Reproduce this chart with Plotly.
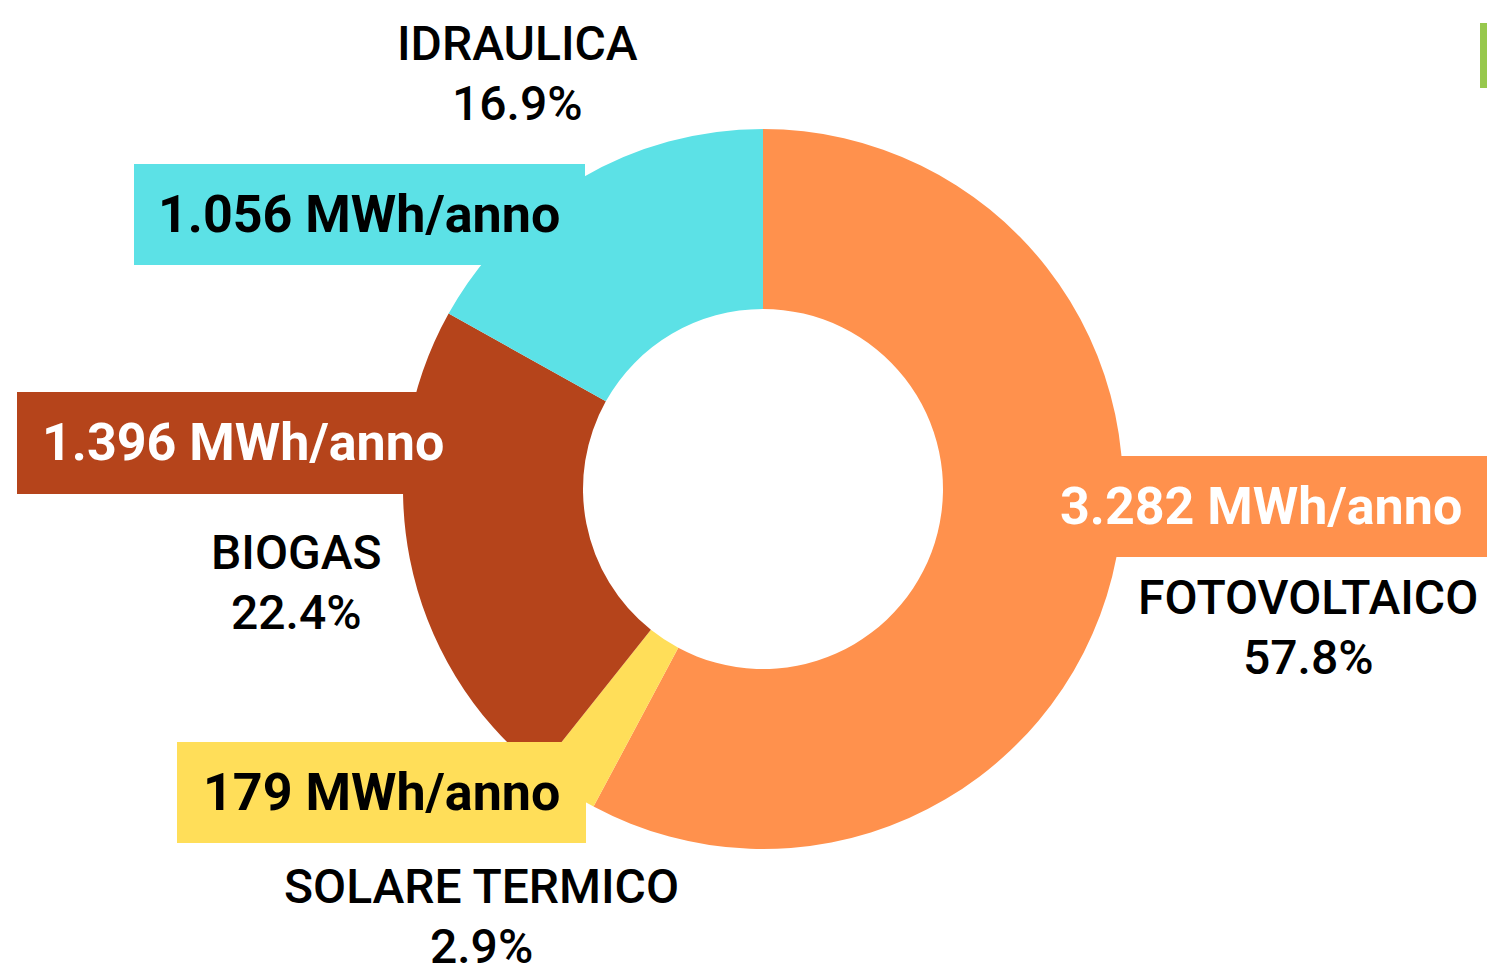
import plotly.graph_objects as go

W, H = 1487, 968

# slice data
labels = ["FOTOVOLTAICO", "SOLARE TERMICO", "BIOGAS", "IDRAULICA"]
shares = [57.8, 2.9, 22.4, 16.9]
energy = ["3.282 MWh/anno", "179 MWh/anno", "1.396 MWh/anno", "1.056 MWh/anno"]
colors = ["#FF914D", "#FFDE59", "#B5441B", "#5CE1E6"]
value_font = ["white", "black", "white", "black"]

FONT = "Roboto"


def px(x):
    return x / W


def py(y):
    return 1 - y / H


# donut centre (763, 489), radius 360 px
cx, cy, r = 763, 489, 360

fig = go.Figure(go.Pie(
    labels=labels,
    values=shares,
    sort=False,
    direction="clockwise",
    rotation=0,
    hole=0.5,
    marker=dict(colors=colors, line=dict(width=0)),
    textinfo="none",
    hoverinfo="label+percent",
    domain=dict(x=[px(cx - r), px(cx + r)], y=[py(cy + r), py(cy - r)]),
    showlegend=False,
))

# value boxes: (x0, y0, x1, y1) in px, text right edge
boxes = [
    (1000, 456, 1487, 557, 1464),
    (177, 742, 586, 843, 562),
    (17, 392, 425, 494, 446),
    (134, 164, 585, 265, 562),
]

shapes = []
annotations = []
for i, (x0, y0, x1, y1, tx) in enumerate(boxes):
    shapes.append(dict(type="rect", xref="paper", yref="paper",
                       x0=px(x0), x1=px(x1), y0=py(y1), y1=py(y0),
                       fillcolor=colors[i], line=dict(width=0), layer="above"))
    annotations.append(dict(text="<b>%s</b>" % energy[i], x=px(tx), y=py((y0 + y1) / 2),
                            xref="paper", yref="paper", xanchor="right", yanchor="middle",
                            showarrow=False,
                            font=dict(family=FONT, size=52, color=value_font[i])))

# category name + share, centred, two lines
name_pos = [(1308, 597), (481, 886), (296, 552), (517, 44)]
for i, (x, y) in enumerate(name_pos):
    annotations.append(dict(text=labels[i], x=px(x), y=py(y), xref="paper", yref="paper",
                            xanchor="center", yanchor="middle", showarrow=False,
                            font=dict(family=FONT, size=48, color="black", weight=500)))
    annotations.append(dict(text="%.1f%%" % shares[i], x=px(x), y=py(y + 60),
                            xref="paper", yref="paper",
                            xanchor="center", yanchor="middle", showarrow=False,
                            font=dict(family=FONT, size=48, color="black", weight=500)))

# green accent bar top right
shapes.append(dict(type="rect", xref="paper", yref="paper",
                   x0=px(1480), x1=px(1487), y0=py(88), y1=py(23),
                   fillcolor="#97C84D", line=dict(width=0)))

fig.update_layout(
    width=W, height=H,
    margin=dict(l=0, r=0, t=0, b=0),
    paper_bgcolor="white",
    plot_bgcolor="white",
    shapes=shapes,
    annotations=annotations,
)

# drop the default page margin so the figure fills the window
fig.write_html("out.html", config={"displayModeBar": False},
               post_script="document.body.style.margin='0';document.body.style.overflow='hidden';")
